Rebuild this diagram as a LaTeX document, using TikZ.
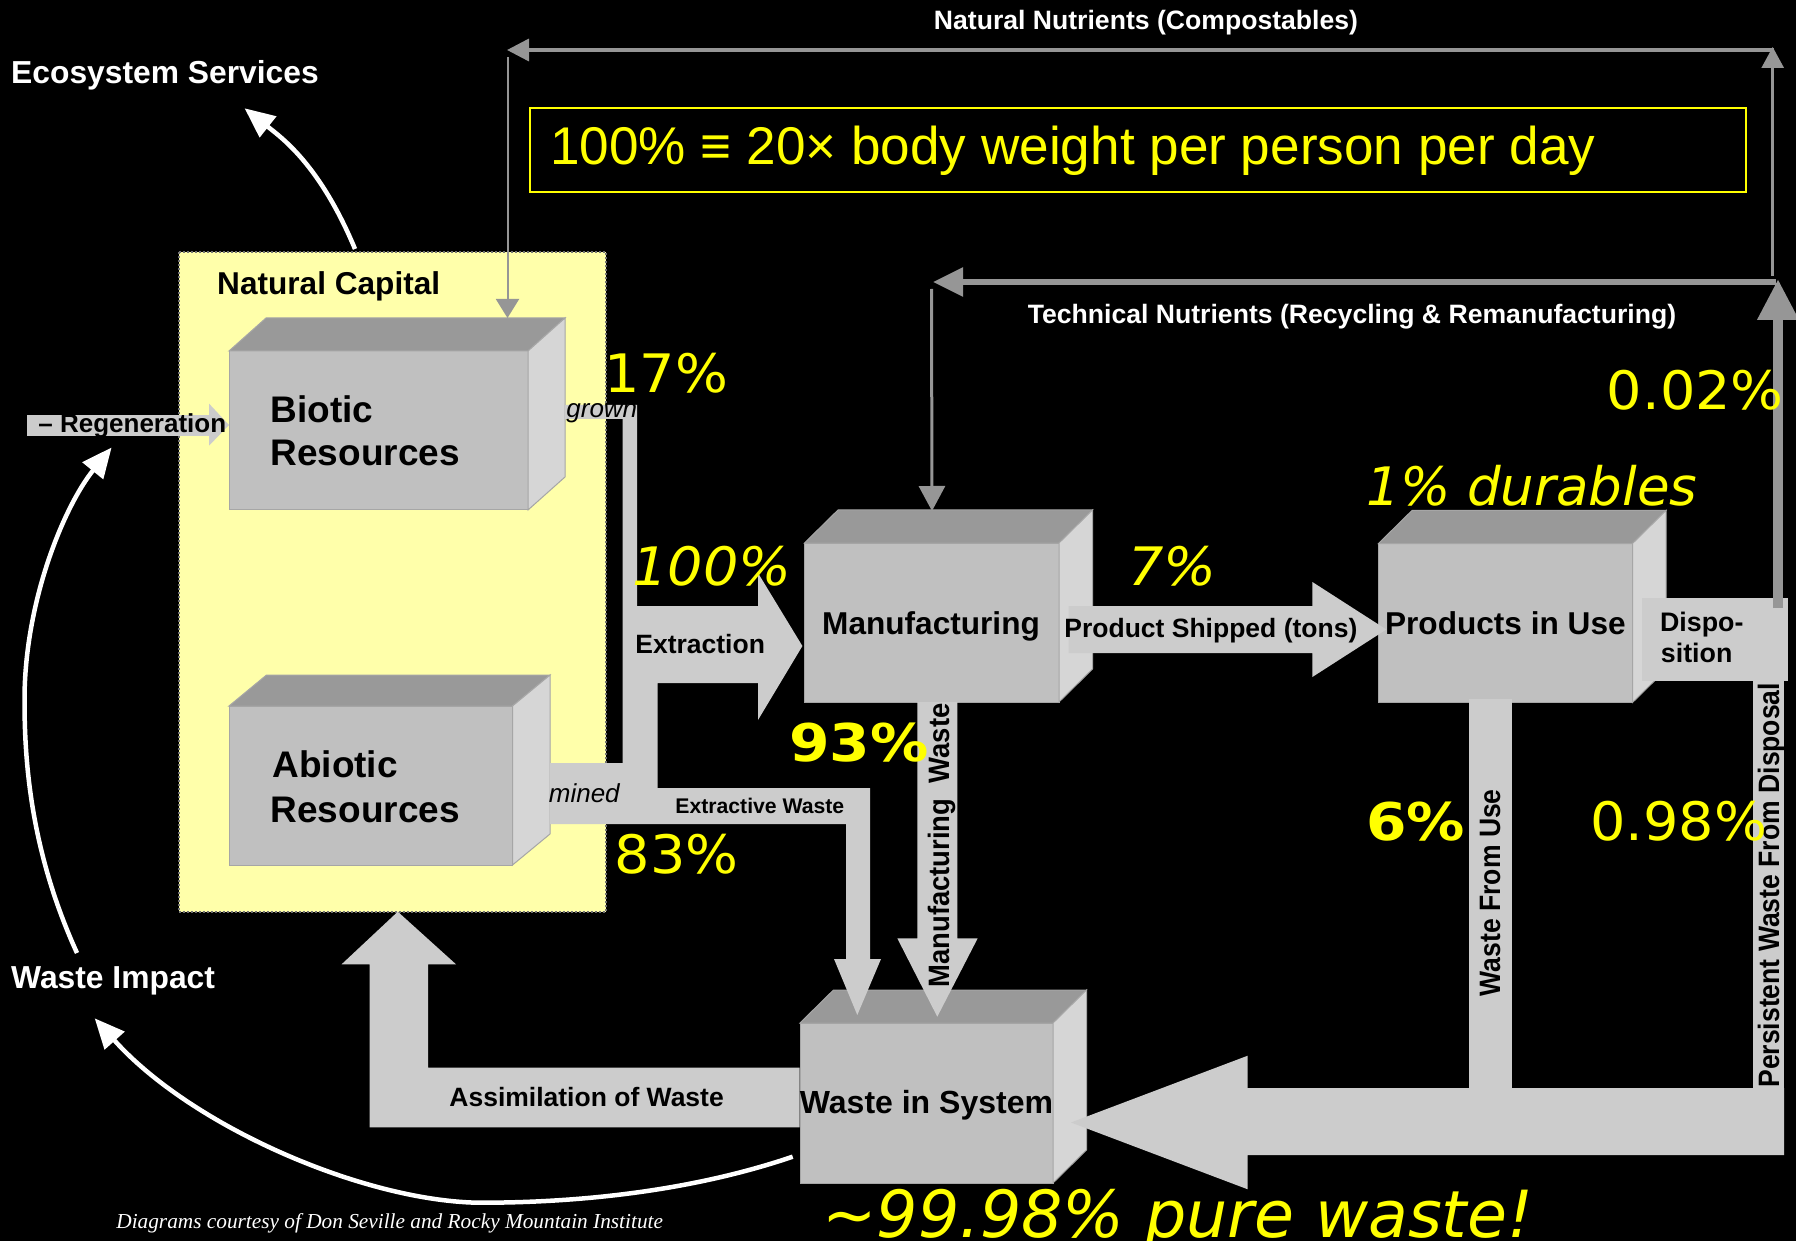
\documentclass[tikz,border=0pt]{standalone}
\usepackage{fontspec}
\setmainfont{Liberation Sans}
\newfontfamily\pctfont[FakeStretch=1.05]{DejaVu Sans}
\newfontfamily\purefont{DejaVu Sans}
\newfontfamily\pctwide[FakeStretch=1.12]{DejaVu Sans}
\newfontfamily\creditfont{Liberation Serif}
\usetikzlibrary{arrows.meta}

\definecolor{flowgray}{HTML}{CCCCCC}
\definecolor{frontgray}{HTML}{C0C0C0}
\definecolor{topgray}{HTML}{999999}
\definecolor{sidegray}{HTML}{D6D6D6}
\definecolor{edgegray}{HTML}{A6A6A6}
\definecolor{linegray}{HTML}{969696}
\definecolor{capyellow}{HTML}{FFFFAA}
\definecolor{pctyellow}{HTML}{FFFF00}

% 3-D stock box: name, front face corners (x1,y1)-(x2,y2), depth (dx,dy)
\newcommand\cuboid[7]{%
  \coordinate (#1-fnw) at (#2,#3);
  \coordinate (#1-fse) at (#4,#5);
  \filldraw[fill=frontgray, draw=edgegray, line width=0.5pt] (#2,#3) rectangle (#4,#5);
  \filldraw[fill=topgray, draw=edgegray, line width=0.5pt] (#2,#3) -- (#2+#6,#3-#7) -- (#4+#6,#3-#7) -- (#4,#3) -- cycle;
  \filldraw[fill=sidegray, draw=edgegray, line width=0.5pt] (#4,#3) -- (#4+#6,#3-#7) -- (#4+#6,#5-#7) -- (#4,#5) -- cycle;
}

\begin{document}
\begin{tikzpicture}[x=0.5pt,y=-0.5pt,
  flow/.style={fill=flowgray},
  lbl/.style={inner sep=0pt, anchor=base west, text=black, font=\bfseries\fontsize{13.25pt}{13.25pt}\selectfont},
  boxlbl/.style={lbl, font=\bfseries\fontsize{15.8pt}{15.8pt}\selectfont},
  bigboxlbl/.style={lbl, font=\bfseries\fontsize{18.5pt}{18.5pt}\selectfont},
  heading/.style={lbl, text=white, font=\bfseries\fontsize{15.9pt}{15.9pt}\selectfont},
  loopname/.style={inner sep=0pt, anchor=base, text=white, font=\bfseries\fontsize{13.3pt}{13.3pt}\selectfont},
  slant/.style={lbl, font=\itshape\fontsize{13pt}{13pt}\selectfont},
  vlbl/.style={inner sep=0pt, anchor=base west, rotate=90, text=black, font=\bfseries\fontsize{14.75pt}{14.75pt}\selectfont},
  pct/.style={inner sep=0pt, anchor=base west, text=pctyellow, font=\pctfont\fontsize{26.5pt}{26.5pt}\selectfont},
  pcti/.style={pct, font=\pctfont\itshape\fontsize{26.5pt}{26.5pt}\selectfont},
  pctb/.style={pct, font=\pctwide\bfseries\fontsize{26pt}{26pt}\selectfont},
  feedback/.style={white, line width=2.25pt, -{Triangle[length=15pt,width=13pt]}},
]
% page
\fill[black] (0,0) rectangle (1796,1241);
\useasboundingbox (0,0) rectangle (1796,1241);

% natural capital panel
\draw[fill=capyellow, draw=black!55, line width=1pt, dash pattern=on 1pt off 1pt] (178.6,252) rectangle (606,912);
\coordinate (capital-top) at (355,249);

% stocks
\cuboid{bio}{229}{351}{528}{510}{37}{33}
\cuboid{abio}{229}{706}{512.5}{865}{37.5}{31}
\cuboid{mfg}{804.5}{543}{1059}{702}{33.5}{33}
\cuboid{use}{1378.5}{543.5}{1632.5}{702.5}{33.5}{33}
\cuboid{wis}{800}{1023}{1053}{1183}{33.5}{33}

% regeneration inflow
\fill[flow] (27,415) rectangle (209,436);
\fill[flow] (209,403.6) -- (229,425) -- (209,445.7) -- cycle;

% grown + mined -> extraction, with extractive waste branch
\fill[flow] (565,405) -- (637,405) -- (637,606) -- (758,606) -- (758,573) -- (802.4,646)
  -- (758,720) -- (758,683) -- (657.6,683) -- (657.6,788) -- (870,788) -- (870,959)
  -- (881,959) -- (857.3,1015) -- (834,959) -- (846,959) -- (846,824) -- (550,824)
  -- (550,763) -- (622.7,763) -- (622.7,419) -- (565,419) -- cycle;

% product shipped
\fill[flow] (1068.6,606) -- (1312.4,606) -- (1312.4,582) -- (1386.3,629.5) -- (1312.4,677)
  -- (1312.4,653) -- (1068.6,653) -- cycle;

% manufacturing waste
\fill[flow] (917.3,702) -- (957.3,702) -- (957.3,938.3) -- (977.7,938.3) -- (937.3,1016.7)
  -- (897.3,938.3) -- (917.3,938.3) -- cycle;

% disposition and the waste streams back to the waste stock
\fill[flow] (1642,598) rectangle (1788,681);
\fill[flow] (1469,699) rectangle (1512,1089);
\fill[flow] (1752.5,681) rectangle (1784,1155);
\fill[flow] (1784,1088) -- (1247.7,1088) -- (1247.7,1055.7) -- (1071,1122.5) -- (1247.7,1189.3)
  -- (1247.7,1155) -- (1784,1155) -- cycle;

% assimilation of waste
\fill[flow] (799.7,1067.7) -- (428,1067.7) -- (428,964.3) -- (456,964.3) -- (397.8,911.7)
  -- (341.6,964.3) -- (369.7,964.3) -- (369.7,1127.3) -- (799.7,1127.3) -- cycle;

% compostables loop
\coordinate (nn-rise) at (1772.7,276);
\coordinate (nn-top) at (1772.7,47);
\coordinate (nn-right) at (1774,50);
\coordinate (nn-left) at (507,50);
\coordinate (nn-drop) at (507.5,57);
\coordinate (bio-in) at (507.5,318);
\draw[linegray, line width=1.4pt, -{Triangle[length=10.5pt,width=11pt]}] (nn-rise) -- (nn-top);
\draw[linegray, line width=1.75pt, -{Triangle[length=11pt,width=11pt]}] (nn-right) -- (nn-left);
\draw[linegray, line width=1pt, -{Triangle[length=9.5pt,width=11.5pt]}] (nn-drop) -- (bio-in);

% recycling loop
\coordinate (tn-right) at (1776,282);
\coordinate (tn-left) at (933,282);
\coordinate (tn-drop) at (931.5,289);
\coordinate (mfg-in) at (932,511);
\coordinate (dispo-out) at (1778,608);
\coordinate (tn-rise) at (1778,279);
\draw[linegray, line width=2.7pt, -{Triangle[length=15pt,width=14pt]}] (tn-right) -- (tn-left);
\draw[linegray, line width=1.5pt, -{Triangle[length=12.5pt,width=13pt]}] (tn-drop) -- (mfg-in);
\draw[linegray, line width=5pt, -{Triangle[length=20.5pt,width=19.5pt]}] (dispo-out) -- (tn-rise);

% headline ratio
\draw[pctyellow, line width=1pt] (530,108) rectangle (1746,192);
\node[inner sep=0pt, anchor=base west, text=pctyellow, font=\fontsize{26.55pt}{26.55pt}\selectfont] (ratio) at (550,165) {100\% ≡ 20× body weight per person per day};

% loop and panel titles
\node[loopname] (nn-name) at (1146,29.5) {Natural Nutrients (Compostables)};
\node[loopname] (tn-name) at (1352,323.3) {Technical Nutrients (Recycling \& Remanufacturing)};
\node[heading] (eco) at (10.8,83.4) {Ecosystem Services};
\node[heading] (impact) at (10.8,988.3) {Waste Impact};
\node[lbl, font=\bfseries\fontsize{15.8pt}{15.8pt}\selectfont] (capital) at (216.8,295) {Natural Capital};

% stock labels
\node[bigboxlbl] (bio1) at (270.3,422.5) {Biotic};
\node[bigboxlbl] (bio2) at (270.3,465.4) {Resources};
\node[bigboxlbl] (abio1) at (272,777) {Abiotic};
\node[bigboxlbl] (abio2) at (270.3,822.5) {Resources};
\node[boxlbl] (mfg-lbl) at (821.8,634) {Manufacturing};
\node[boxlbl] (use-lbl) at (1384.7,634.6) {Products in Use};
\node[boxlbl, font=\bfseries\fontsize{16pt}{16pt}\selectfont] (wis-lbl) at (799.5,1113.3) {Waste in System};

% flow labels
\node[lbl, font=\bfseries\fontsize{13pt}{13pt}\selectfont] (regen) at (38,433) {– Regeneration};
\node[slant] (grown) at (566,417.3) {grown};
\node[slant] (mined) at (548.5,802) {mined};
\node[lbl] (extraction) at (635,653.3) {Extraction};
\node[lbl, font=\bfseries\fontsize{10.6pt}{10.6pt}\selectfont] (exwaste) at (675,813.3) {Extractive Waste};
\node[lbl] (shipped) at (1064,637) {Product Shipped (tons)};
\node[lbl, font=\bfseries\fontsize{13.4pt}{13.4pt}\selectfont] (dispo1) at (1659.7,631.7) {Dispo-};
\node[lbl, font=\bfseries\fontsize{13.4pt}{13.4pt}\selectfont] (dispo2) at (1660.5,662.7) {sition};
\node[lbl] (assim) at (449,1106) {Assimilation of Waste};
\node[vlbl] (mwaste) at (949,988) {\scalebox{0.93}[1]{Manufacturing\ \ Waste}};
\node[vlbl] (usewaste) at (1500,996.7) {\scalebox{0.9}[1]{Waste From Use}};
\node[vlbl] (perswaste) at (1779,1088) {\scalebox{0.9}[1]{Persistent Waste From Disposal}};

% shares of the material flow
\node[pct] (p17) at (604,393) {17\%};
\node[pct] (p83) at (614.5,873) {83\%};
\node[pct] (p002) at (1606.5,410) {0.02\%};
\node[pct] (p098) at (1590,840) {0.98\%};
\node[pcti] (p100) at (632,585) {100\%};
\node[pcti] (p7) at (1128,585) {7\%};
\node[pcti, font=\purefont\itshape\fontsize{26.5pt}{26.5pt}\selectfont] (pdur) at (1366,506) {1\% durables};
\node[pctb] (p93) at (789,761.7) {93\%};
\node[pctb] (p6) at (1365.6,840.7) {6\%};
\node[pcti, font=\purefont\itshape\fontsize{32.5pt}{32.5pt}\selectfont] (pure) at (822,1237) {\textasciitilde 99.98\% pure waste!};

% credit line
\node[inner sep=0pt, anchor=base west, text=white, font=\creditfont\itshape\fontsize{10.65pt}{10.65pt}\selectfont] (credit) at (116,1228.3) {Diagrams courtesy of Don Seville and Rocky Mountain Institute};

% feedback arrows
\coordinate (eco-tip) at (244.6,108.3);
\coordinate (impact-top) at (77,953);
\coordinate (regen-tip) at (111.6,447.5);
\coordinate (wis-out) at (792.7,1156.7);
\coordinate (impact-tip) at (94.7,1018.3);
\draw[feedback] (capital-top) .. controls (320,165) and (282,138) .. (eco-tip);
\draw[feedback] (impact-top) .. controls (30,850) and (24.5,760) .. (24.5,700)
  .. controls (24.5,600) and (65,505) .. (regen-tip);
\draw[feedback] (wis-out) .. controls (680,1195) and (560,1203) .. (477,1202.7)
  .. controls (360,1200) and (190,1125) .. (impact-tip);
\end{tikzpicture}
\end{document}
